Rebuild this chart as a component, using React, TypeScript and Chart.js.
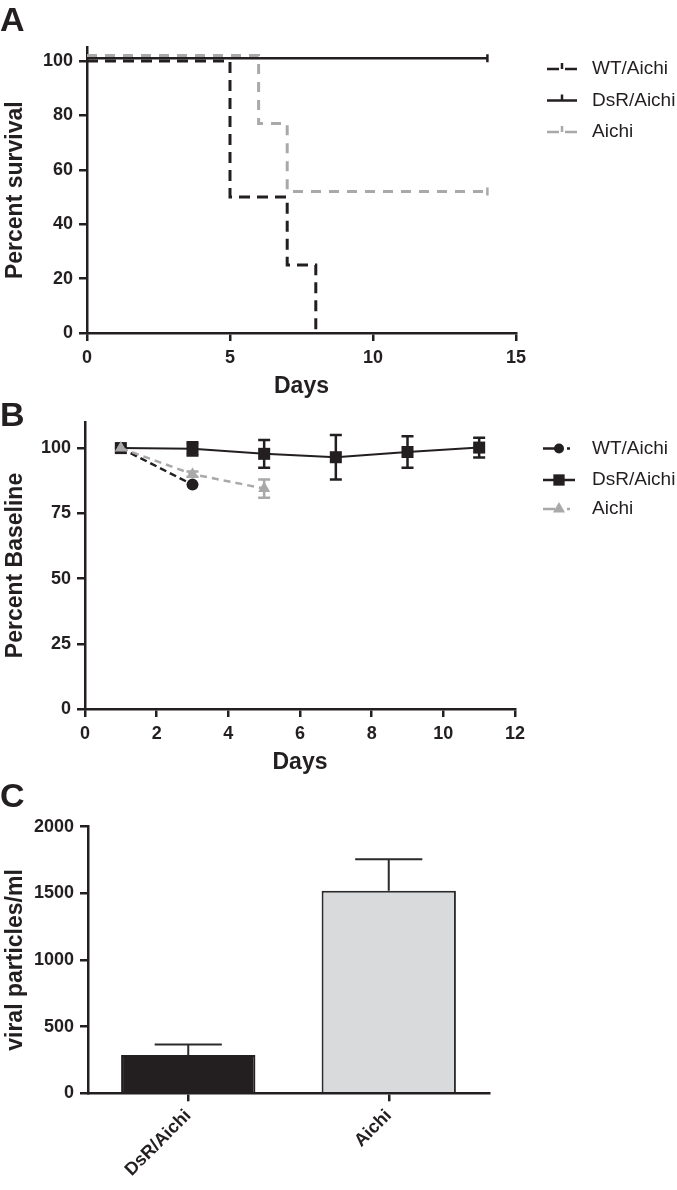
import React, { useEffect, useRef } from "react";
import { Chart, registerables } from "chart.js";

Chart.register(...registerables);

// ---------- Panel A: survival ----------
const wtSurvivalDays = [0, 5, 7, 8];
const wtSurvivalPct = [100, 50, 25, 0];
const dsrSurvivalDays = [0, 14];
const dsrSurvivalPct = [101, 101];
const aichiSurvivalDays = [0, 6, 7, 14];
const aichiSurvivalPct = [102, 77, 52, 52];
const survivalYTicks = [0, 20, 40, 60, 80, 100];
const survivalXTicks = [0, 5, 10, 15];

// ---------- Panel B: percent baseline ----------
const wtWeightDays = [1, 3];
const wtWeight = [100, 86];
const wtWeightErr = [0, 0];
const dsrWeightDays = [1, 3, 5, 7, 9, 11];
const dsrWeight = [100, 99.7, 97.8, 96.5, 98.5, 100.2];
const dsrWeightErr = [0, 2.5, 5.3, 8.5, 6, 3.8];
const aichiWeightDays = [1, 3, 5];
const aichiWeight = [100, 90, 84.5];
const aichiWeightErr = [0, 1, 3.5];
const weightYTicks = [0, 25, 50, 75, 100];
const weightXTicks = [0, 2, 4, 6, 8, 10, 12];

// ---------- Panel C: viral particles ----------
const virusGroups = ["DsR/Aichi", "Aichi"];
const virusTiter = [287, 1520];
const virusErr = [80, 235];
const virusYTicks = [0, 500, 1000, 1500, 2000];

const seriesNames = ["WT/Aichi", "DsR/Aichi", "Aichi"];

const INK = "#231f20";
const GREY = "#a9a9a9";
const BAR_GREY = "#d9dadc";
const FONT = "'Liberation Sans', Arial, Helvetica, sans-serif";
const W = 677;

function pts(xs: number[], ys: number[]) {
  return xs.map((x, i) => ({ x, y: ys[i] }));
}

function makeAxis(
  type: string,
  min: number | undefined,
  max: number | undefined,
  ticks: number[] | null,
  title: string,
  size: number,
  titlePad: number
): any {
  const ax: any = {
    type,
    min,
    max,
    afterFit: (s: any) => {
      if (s.isHorizontal()) s.height = size;
      else s.width = size;
    },
    border: { display: true, color: INK, width: 2.5 },
    grid: {
      display: true,
      drawOnChartArea: false,
      drawTicks: true,
      tickLength: 8,
      color: INK,
      lineWidth: 2.5,
    },
    ticks: {
      color: INK,
      font: { family: FONT, size: 18, weight: "bold" },
      padding: 6,
      autoSkip: false,
      maxRotation: 0,
      minRotation: 0,
    },
    title: {
      display: !!title,
      text: title,
      color: INK,
      font: { family: FONT, size: 23, weight: "bold" },
      padding: { top: titlePad, bottom: titlePad },
    },
  };
  if (ticks) {
    ax.afterBuildTicks = (s: any) => {
      s.ticks = ticks.map((v) => ({ value: v }));
    };
    ax.ticks.callback = (v: any) => String(v);
  }
  return ax;
}

function drawMarker(ctx: CanvasRenderingContext2D, style: string, x: number, y: number, r: number) {
  ctx.beginPath();
  if (style === "circle") {
    ctx.arc(x, y, r, 0, Math.PI * 2);
    ctx.fill();
  } else if (style === "rect") {
    const s = r * Math.SQRT1_2;
    ctx.rect(x - s, y - s, 2 * s, 2 * s);
    ctx.fill();
  } else if (style === "triangle") {
    ctx.moveTo(x, y - r);
    ctx.lineTo(x + r * 0.866, y + r * 0.5);
    ctx.lineTo(x - r * 0.866, y + r * 0.5);
    ctx.closePath();
    ctx.fill();
  } else if (style === "tick") {
    ctx.moveTo(x, y);
    ctx.lineTo(x, y - 6);
    ctx.stroke();
  }
}

function sideLegend(x0: number, x1: number, textX: number, rows: number[]): any {
  return {
    id: "sideLegend",
    afterDraw(chart: any) {
      const ctx: CanvasRenderingContext2D = chart.ctx;
      chart.data.datasets.forEach((ds: any, i: number) => {
        const y = rows[i];
        ctx.save();
        ctx.strokeStyle = ds.borderColor;
        ctx.fillStyle = ds.borderColor;
        ctx.lineWidth = 2.5;
        ctx.setLineDash(ds.legendDash || []);
        ctx.beginPath();
        ctx.moveTo(x0, y);
        ctx.lineTo(x1, y);
        ctx.stroke();
        ctx.setLineDash([]);
        drawMarker(ctx, ds.legendMarker, (x0 + x1) / 2, y, ds.legendMarkerSize || 5);
        ctx.fillStyle = INK;
        ctx.font = `19px ${FONT}`;
        ctx.textAlign = "left";
        ctx.textBaseline = "middle";
        ctx.fillText(ds.label, textX, y);
        ctx.restore();
      });
    },
  };
}

const lineErrorBars: any = {
  id: "lineErrorBars",
  beforeDatasetsDraw(chart: any) {
    const ctx: CanvasRenderingContext2D = chart.ctx;
    const xs = chart.scales.x;
    const ys = chart.scales.y;
    chart.data.datasets.forEach((ds: any) => {
      if (!ds.errorBars) return;
      ctx.save();
      ctx.strokeStyle = ds.borderColor;
      ctx.lineWidth = 2.5;
      ctx.setLineDash([]);
      ds.data.forEach((p: any, i: number) => {
        const e = ds.errorBars[i];
        if (!e) return;
        const px = xs.getPixelForValue(p.x);
        const yt = ys.getPixelForValue(p.y + e);
        const yb = ys.getPixelForValue(p.y - e);
        const cap = 6;
        ctx.beginPath();
        ctx.moveTo(px, yt);
        ctx.lineTo(px, yb);
        ctx.moveTo(px - cap, yt);
        ctx.lineTo(px + cap, yt);
        ctx.moveTo(px - cap, yb);
        ctx.lineTo(px + cap, yb);
        ctx.stroke();
      });
      ctx.restore();
    });
  },
};

const barErrorBars: any = {
  id: "barErrorBars",
  afterDatasetsDraw(chart: any) {
    const ctx: CanvasRenderingContext2D = chart.ctx;
    const ys = chart.scales.y;
    chart.data.datasets.forEach((ds: any, di: number) => {
      if (!ds.errorBars) return;
      const meta = chart.getDatasetMeta(di);
      meta.data.forEach((bar: any, i: number) => {
        const v = ds.data[i];
        const e = ds.errorBars[i];
        const yTop = ys.getPixelForValue(v + e);
        const yBar = ys.getPixelForValue(v);
        const half = bar.width / 4;
        ctx.save();
        ctx.strokeStyle = "#2b2b2b";
        ctx.lineWidth = 2;
        ctx.beginPath();
        ctx.moveTo(bar.x, yBar);
        ctx.lineTo(bar.x, yTop);
        ctx.moveTo(bar.x - half, yTop);
        ctx.lineTo(bar.x + half, yTop);
        ctx.stroke();
        ctx.restore();
      });
    });
  },
};

const baseOptions: any = {
  responsive: false,
  animation: false,
  devicePixelRatio: 1,
  events: [],
};

function makeSurvival(canvas: HTMLCanvasElement) {
  return new Chart(canvas, {
    type: "line",
    data: {
      datasets: [
        {
          label: seriesNames[0],
          data: pts(wtSurvivalDays, wtSurvivalPct),
          stepped: true,
          borderColor: INK,
          borderWidth: 3,
          borderDash: [11, 7],
          pointRadius: 0,
          legendDash: [12, 6],
          legendMarker: "tick",
        },
        {
          label: seriesNames[1],
          data: pts(dsrSurvivalDays, dsrSurvivalPct),
          stepped: true,
          borderColor: INK,
          borderWidth: 2.5,
          pointRadius: dsrSurvivalDays.map((_, i) => (i === dsrSurvivalDays.length - 1 ? 4 : 0)),
          pointStyle: "line",
          rotation: 90,
          pointBorderWidth: 2.5,
          pointBorderColor: INK,
          legendDash: [],
          legendMarker: "tick",
        },
        {
          label: seriesNames[2],
          data: pts(aichiSurvivalDays, aichiSurvivalPct),
          stepped: true,
          borderColor: GREY,
          borderWidth: 3,
          borderDash: [10, 8],
          pointRadius: aichiSurvivalDays.map((_, i) => (i === aichiSurvivalDays.length - 1 ? 4 : 0)),
          pointStyle: "line",
          rotation: 90,
          pointBorderWidth: 2.5,
          pointBorderColor: GREY,
          legendDash: [12, 6],
          legendMarker: "tick",
        },
      ] as any,
    },
    options: {
      ...baseOptions,
      layout: { padding: { left: 0, right: W - 516, top: 47.4, bottom: 0 } },
      plugins: { legend: { display: false }, tooltip: { enabled: false } },
      scales: {
        x: makeAxis("linear", 0, 15, survivalXTicks, "Days", 67, 0),
        y: makeAxis("linear", 0, 105, survivalYTicks, "Percent survival", 87, 2),
      },
    },
    plugins: [sideLegend(547, 577, 592, [69, 100.5, 132])],
  });
}

function makeWeight(canvas: HTMLCanvasElement) {
  return new Chart(canvas, {
    type: "line",
    data: {
      datasets: [
        {
          label: seriesNames[0],
          data: pts(wtWeightDays, wtWeight),
          errorBars: wtWeightErr,
          borderColor: INK,
          backgroundColor: INK,
          borderWidth: 2.5,
          borderDash: [7, 4],
          pointStyle: "circle",
          pointRadius: 6,
          pointBorderWidth: 0,
          order: 1,
          legendDash: [12, 12, 3, 5],
          legendMarker: "circle",
          legendMarkerSize: 5,
        },
        {
          label: seriesNames[1],
          data: pts(dsrWeightDays, dsrWeight),
          errorBars: dsrWeightErr,
          borderColor: INK,
          backgroundColor: INK,
          borderWidth: 2,
          pointStyle: "rect",
          pointRadius: 8.5,
          pointBorderWidth: 0,
          order: 2,
          legendDash: [],
          legendMarker: "rect",
          legendMarkerSize: 8,
        },
        {
          label: seriesNames[2],
          data: pts(aichiWeightDays, aichiWeight),
          errorBars: aichiWeightErr,
          borderColor: GREY,
          backgroundColor: GREY,
          borderWidth: 2.5,
          borderDash: [7, 5],
          pointStyle: "triangle",
          pointRadius: 7,
          pointBorderWidth: 0,
          order: 0,
          legendDash: [12, 12, 3, 5],
          legendMarker: "triangle",
          legendMarkerSize: 7,
        },
      ] as any,
    },
    options: {
      ...baseOptions,
      layout: { padding: { left: 0, right: W - 515, top: 22, bottom: 0 } },
      plugins: { legend: { display: false }, tooltip: { enabled: false } },
      scales: {
        x: makeAxis("linear", 0, 12, weightXTicks, "Days", 67, 0),
        y: makeAxis("linear", 0, 110, weightYTicks, "Percent Baseline", 85, 2),
      },
    },
    plugins: [lineErrorBars, sideLegend(543, 575, 592, [48.5, 80, 109])],
  });
}

function makeVirus(canvas: HTMLCanvasElement) {
  const x = makeAxis("category", undefined, undefined, null, "", 96.7, 0);
  x.offset = true;
  x.grid.offset = false;
  x.ticks.maxRotation = 45;
  x.ticks.minRotation = 45;
  x.ticks.padding = 4;
  return new Chart(canvas, {
    type: "bar",
    data: {
      labels: virusGroups,
      datasets: [
        {
          label: "viral particles/ml",
          data: virusTiter,
          errorBars: virusErr,
          backgroundColor: [INK, BAR_GREY],
          borderColor: [INK, "#2b2b2b"],
          borderWidth: 2,
          borderSkipped: "bottom",
          categoryPercentage: 1,
          barPercentage: 0.67,
        },
      ] as any,
    },
    options: {
      ...baseOptions,
      layout: { padding: { left: 0, right: W - 489, top: 46.7, bottom: 0 } },
      plugins: { legend: { display: false }, tooltip: { enabled: false } },
      scales: {
        x,
        y: makeAxis("linear", 0, 2000, virusYTicks, "viral particles/ml", 88, 2),
      },
    },
    plugins: [barErrorBars],
  });
}

function ChartCanvas({ top, height, make }: { top: number; height: number; make: (c: HTMLCanvasElement) => Chart }) {
  const ref = useRef<HTMLCanvasElement>(null);
  useEffect(() => {
    const chart = make(ref.current as HTMLCanvasElement);
    return () => chart.destroy();
  }, []);
  return (
    <canvas
      ref={ref}
      width={W}
      height={height}
      style={{ position: "absolute", left: 0, top, width: W, height, display: "block" }}
    />
  );
}

function Letter({ text, top }: { text: string; top: number }) {
  return (
    <div
      style={{
        position: "absolute",
        left: 0,
        top,
        fontFamily: FONT,
        fontWeight: "bold",
        fontSize: 34,
        lineHeight: "34px",
        color: INK,
      }}
    >
      {text}
    </div>
  );
}

export default function App() {
  return (
    <div
      style={{
        position: "absolute",
        left: 0,
        top: 0,
        width: W,
        height: 1190,
        background: "#ffffff",
        overflow: "hidden",
      }}
    >
      <ChartCanvas top={0} height={400} make={makeSurvival} />
      <ChartCanvas top={400} height={376} make={makeWeight} />
      <ChartCanvas top={780} height={410} make={makeVirus} />
      <Letter text="A" top={1.5} />
      <Letter text="B" top={396.5} />
      <Letter text="C" top={777.5} />
    </div>
  );
}
